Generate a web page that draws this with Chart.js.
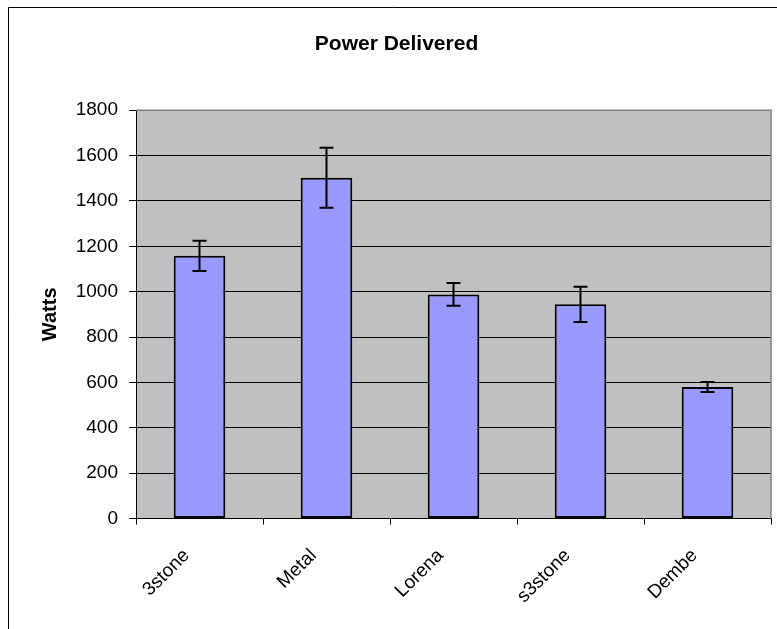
<!DOCTYPE html>
<html>
<head>
<meta charset="utf-8">
<script src="https://cdn.jsdelivr.net/npm/chart.js@4"></script>
<style>
  html, body { margin: 0; padding: 0; background: #fff; }
  #wrap { width: 777px; height: 629px; }
</style>
</head>
<body>
<div id="wrap"><canvas id="powerChart" width="777" height="629"></canvas></div>
<script>
// chart data
const stoves = ['3stone', 'Metal', 'Lorena', 's3stone', 'Dembe'];
const watts = [1158, 1502, 988, 944, 580];
const wattsErr = [67, 132, 50, 78, 22];
const yTicks = [0, 200, 400, 600, 800, 1000, 1200, 1400, 1600, 1800];

const FONT = "'Liberation Sans', Arial, sans-serif";

// grey plot area + outer frame (cropped on the right/bottom like the original)
const frame = {
  id: 'frame',
  beforeDraw(chart) {
    const { ctx, chartArea: a } = chart;
    ctx.save();
    ctx.fillStyle = '#C0C0C0';
    ctx.fillRect(a.left, a.top, a.right - a.left, a.bottom - a.top);
    ctx.strokeStyle = '#000';
    ctx.lineWidth = 1;
    ctx.beginPath();
    ctx.moveTo(8.5, chart.height);
    ctx.lineTo(8.5, 7.5);
    ctx.lineTo(chart.width, 7.5);
    ctx.stroke();
    ctx.restore();
  },
  beforeDatasetsDraw(chart) {
    const { ctx, chartArea: a } = chart;
    ctx.save();
    ctx.strokeStyle = '#808080';
    ctx.lineWidth = 1.5;
    ctx.beginPath();
    ctx.moveTo(a.left, a.top);
    ctx.lineTo(a.right, a.top);
    ctx.lineTo(a.right, a.bottom);
    ctx.stroke();
    ctx.restore();
  }
};

// +/- error bars, positioned through the scales
const errorBars = {
  id: 'errorBars',
  afterDatasetsDraw(chart) {
    const { ctx } = chart;
    const y = chart.scales.y;
    const meta = chart.getDatasetMeta(0);
    ctx.save();
    ctx.strokeStyle = '#000';
    ctx.lineWidth = 2;
    meta.data.forEach((bar, i) => {
      const x = bar.x;
      const hi = y.getPixelForValue(watts[i] + wattsErr[i]);
      const lo = y.getPixelForValue(watts[i] - wattsErr[i]);
      ctx.beginPath();
      ctx.moveTo(x, hi); ctx.lineTo(x, lo);
      ctx.moveTo(x - 7, hi); ctx.lineTo(x + 7, hi);
      ctx.moveTo(x - 7, lo); ctx.lineTo(x + 7, lo);
      ctx.stroke();
    });
    ctx.restore();
  }
};

new Chart(document.getElementById('powerChart'), {
  type: 'bar',
  data: {
    labels: stoves,
    datasets: [{
      label: 'Watts',
      data: watts,
      backgroundColor: '#9999FF',
      borderColor: '#000',
      borderWidth: 2,
      borderSkipped: false,
      barPercentage: 0.406,
      categoryPercentage: 1
    }]
  },
  options: {
    responsive: false,
    animation: false,
    layout: { padding: { left: 22, right: 6, top: 0, bottom: 0 } },
    plugins: {
      legend: { display: false },
      tooltip: { enabled: false },
      title: {
        display: true,
        text: 'Power Delivered',
        color: '#000',
        font: { family: FONT, size: 21, weight: 'bold' },
        padding: { top: 32, bottom: 53 }
      }
    },
    scales: {
      x: {
        afterFit(scale) { scale.height = 110.5; },
        grid: { offset: true, drawOnChartArea: false, tickLength: 6, color: '#000' },
        border: { color: '#000', width: 1 },
        ticks: {
          color: '#000',
          font: { family: FONT, size: 19 },
          minRotation: 45,
          maxRotation: 45,
          labelOffset: -13,
          padding: 20
        }
      },
      y: {
        min: 0,
        max: 1800,
        afterFit(scale) { scale.width = 114; },
        afterBuildTicks(scale) { scale.ticks = yTicks.map(v => ({ value: v })); },
        grid: {
          color: ctx => (ctx.tick && ctx.tick.value === 1800 ? '#808080' : '#000'),
          tickColor: '#000',
          tickLength: 7
        },
        border: { color: '#000', width: 1 },
        ticks: {
          color: '#000',
          font: { family: FONT, size: 19 },
          padding: 11,
          callback: v => String(v)
        },
        title: {
          display: true,
          text: 'Watts',
          color: '#000',
          font: { family: FONT, size: 20, weight: 'bold' },
          padding: { top: 16, bottom: 0 }
        }
      }
    }
  },
  plugins: [frame, errorBars]
});
</script>
</body>
</html>
